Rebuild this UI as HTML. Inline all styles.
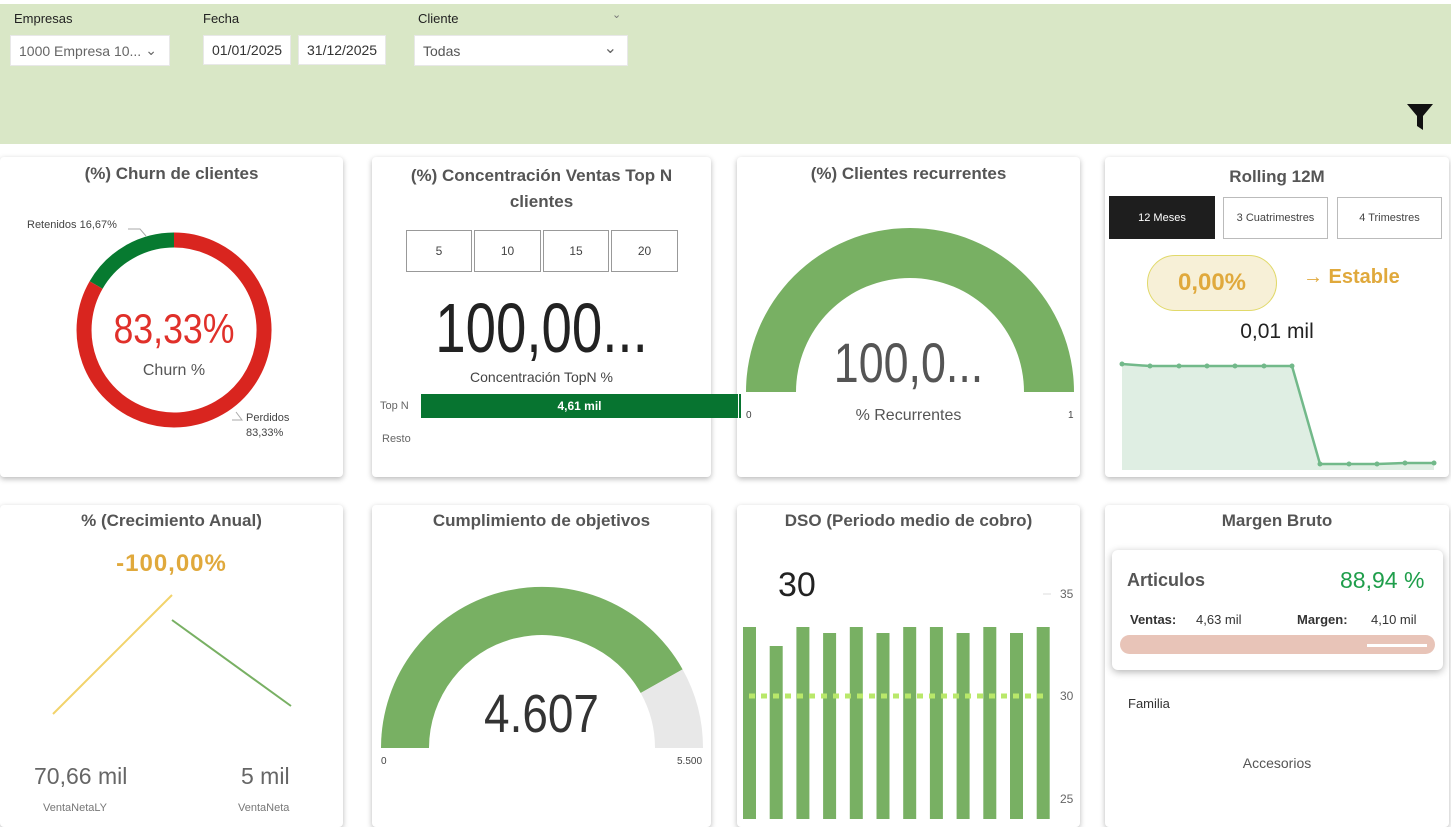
<!DOCTYPE html>
<html><head><meta charset="utf-8"><style>
*{margin:0;padding:0;box-sizing:border-box}
body{width:1451px;height:827px;background:#fff;position:relative;overflow:hidden;font-family:"Liberation Sans",sans-serif;color:#252423}
.a{position:absolute}
.band{left:0;top:4px;width:1451px;height:140px;background:#d9e7c6}
.lbl{font-size:13px;color:#222}
.box{background:#fff;border:1px solid #e8e8e8;font-size:14px;color:#333;display:flex;align-items:center;padding-left:8px}
.card{background:#fff;border-radius:4px;box-shadow:0 2px 6px rgba(0,0,0,.28)}
.t{font-weight:bold;font-size:17px;color:#555;text-align:center}
.btn{border:1px solid #999;background:#fff;font-size:12px;color:#444;display:flex;align-items:center;justify-content:center}
</style></head><body>
<div class="a band"></div>
<div class="a lbl" style="left:14px;top:11px">Empresas</div>
<div class="a lbl" style="left:203px;top:11px">Fecha</div>
<div class="a lbl" style="left:418px;top:11px">Cliente</div>
<div class="a" style="left:612px;top:8px;font-size:11px;color:#777">&#8964;</div>
<div class="a box" style="left:10px;top:35px;width:160px;height:31px;color:#666">1000 Empresa 10...<span style="margin-left:4px">&#8964;</span></div>
<div class="a box" style="left:203px;top:35px;width:88px;height:30px">01/01/2025</div>
<div class="a box" style="left:298px;top:35px;width:88px;height:30px">31/12/2025</div>
<div class="a box" style="left:414px;top:35px;width:214px;height:31px;color:#555">Todas<span style="position:absolute;right:10px;top:2px;font-size:16px;color:#666">&#8964;</span></div>
<svg class="a" style="left:1405px;top:102px" width="30" height="30"><path d="M2 2H28L18 14V28L12 24V14Z" fill="#111"/></svg>

<div class="a card" style="left:0;top:157px;width:343px;height:320px"></div>
<div class="a card" style="left:372px;top:157px;width:339px;height:320px"></div>
<div class="a card" style="left:737px;top:157px;width:343px;height:320px"></div>
<div class="a card" style="left:1105px;top:157px;width:344px;height:320px"></div>
<div class="a card" style="left:0;top:505px;width:343px;height:322px"></div>
<div class="a card" style="left:372px;top:505px;width:339px;height:322px"></div>
<div class="a card" style="left:737px;top:505px;width:343px;height:322px"></div>
<div class="a card" style="left:1105px;top:505px;width:344px;height:322px"></div>

<div class="a t" style="left:0;top:164px;width:343px">(%) Churn de clientes</div>
<div class="a t" style="left:372px;top:163px;width:339px;line-height:26px">(%) Concentración Ventas Top N<br>clientes</div>
<div class="a t" style="left:737px;top:164px;width:343px">(%) Clientes recurrentes</div>
<div class="a t" style="left:1105px;top:167px;width:344px">Rolling 12M</div>
<div class="a t" style="left:0;top:511px;width:343px">% (Crecimiento Anual)</div>
<div class="a t" style="left:372px;top:511px;width:339px">Cumplimiento de objetivos</div>
<div class="a t" style="left:737px;top:511px;width:343px">DSO (Periodo medio de cobro)</div>
<div class="a t" style="left:1105px;top:511px;width:344px">Margen Bruto</div>

<svg class="a" style="left:0;top:0" width="1451" height="827">
<path d="M96.1 285 A90 90 0 0 1 174 240" fill="none" stroke="#077a30" stroke-width="15"/>
<path d="M174 240 A90 90 0 1 1 96.1 285" fill="none" stroke="#d9251f" stroke-width="15"/>
<polyline points="128,229 140,229 146,236" fill="none" stroke="#aaa"/>
<polyline points="232,420 242,420 236,412" fill="none" stroke="#aaa"/>
<path d="M746 392 A164 164 0 0 1 1074 392 L1024 392 A114 114 0 0 0 796 392Z" fill="#78b063"/>
<path d="M381 748 A161 161 0 0 1 682.6 669.4 L640.7 693 A113 113 0 0 0 429 748Z" fill="#78b063"/>
<path d="M682.6 669.4 A161 161 0 0 1 703 748 L655 748 A113 113 0 0 0 640.7 693Z" fill="#e8e8e8"/>
<rect x="421" y="394" width="317" height="24" fill="#077430"/>
<rect x="739" y="394" width="2" height="24" fill="#077430"/>
<line x1="53" y1="714" x2="172" y2="595" stroke="#f2d36b" stroke-width="2"/>
<line x1="172" y1="620" x2="291" y2="706" stroke="#78b063" stroke-width="2"/>
<path d="M1122 364 L1150 366 L1179 366 L1207 366 L1235 366 L1264 366 L1292 366 L1320 464 L1349 464 L1377 464 L1405 463 L1434 463 L1434 470 L1122 470Z" fill="#dfeee3"/>
<polyline points="1122,364 1150,366 1179,366 1207,366 1235,366 1264,366 1292,366 1320,464 1349,464 1377,464 1405,463 1434,463" fill="none" stroke="#72b98a" stroke-width="2.5"/>
<g fill="#72b98a"><circle cx="1122" cy="364" r="2.5"/><circle cx="1150" cy="366" r="2.5"/><circle cx="1179" cy="366" r="2.5"/><circle cx="1207" cy="366" r="2.5"/><circle cx="1235" cy="366" r="2.5"/><circle cx="1264" cy="366" r="2.5"/><circle cx="1292" cy="366" r="2.5"/><circle cx="1320" cy="464" r="2.5"/><circle cx="1349" cy="464" r="2.5"/><circle cx="1377" cy="464" r="2.5"/><circle cx="1405" cy="463" r="2.5"/><circle cx="1434" cy="463" r="2.5"/></g>
<g fill="#78b063">
<rect x="743" y="627" width="13" height="192"/><rect x="769.7" y="646" width="13" height="173"/><rect x="796.4" y="627" width="13" height="192"/><rect x="823.1" y="633" width="13" height="186"/><rect x="849.8" y="627" width="13" height="192"/><rect x="876.5" y="633" width="13" height="186"/><rect x="903.2" y="627" width="13" height="192"/><rect x="929.9" y="627" width="13" height="192"/><rect x="956.6" y="633" width="13" height="186"/><rect x="983.3" y="627" width="13" height="192"/><rect x="1010" y="633" width="13" height="186"/><rect x="1036.7" y="627" width="13" height="192"/></g>
<line x1="749" y1="696" x2="1043" y2="696" stroke="#b9e86a" stroke-width="5" stroke-dasharray="6,6"/>
<line x1="1043" y1="594" x2="1051" y2="594" stroke="#ddd"/>
</svg>
<div class="a" style="left:27px;top:219px;font-size:11px;color:#444">Retenidos 16,67%</div>
<div class="a" style="left:246px;top:411px;font-size:11px;color:#444;line-height:15px">Perdidos<br>83,33%</div>
<div class="a" style="left:74px;top:305px;width:200px;text-align:center;font-size:42px;color:#e0302a;transform:scaleX(.85)">83,33%</div>
<div class="a" style="left:74px;top:362px;width:200px;text-align:center;font-size:16px;color:#555">Churn %</div>

<div class="a btn" style="left:406px;top:230px;width:66px;height:42px">5</div>
<div class="a btn" style="left:474px;top:230px;width:67px;height:42px">10</div>
<div class="a btn" style="left:543px;top:230px;width:66px;height:42px">15</div>
<div class="a btn" style="left:611px;top:230px;width:67px;height:42px">20</div>
<div class="a" style="left:372px;top:288px;width:339px;text-align:center;font-size:70px;color:#222;transform:scaleX(.78)">100,00...</div>
<div class="a" style="left:372px;top:369px;width:339px;text-align:center;font-size:14px;color:#444">Concentración TopN %</div>
<div class="a" style="left:380px;top:400px;font-size:11px;color:#666">Top N</div>
<div class="a" style="left:382px;top:433px;font-size:11px;color:#666">Resto</div>
<div class="a" style="left:421px;top:399px;width:317px;text-align:center;font-size:12px;font-weight:bold;color:#fff">4,61 mil</div>

<div class="a" style="left:737px;top:330px;width:343px;text-align:center;font-size:56px;color:#555;transform:scaleX(.8)">100,0...</div>
<div class="a" style="left:737px;top:407px;width:343px;text-align:center;font-size:16px;color:#555">% Recurrentes</div>
<div class="a" style="left:746px;top:410px;font-size:10px;color:#444">0</div>
<div class="a" style="left:1068px;top:410px;font-size:10px;color:#444">1</div>

<div class="a btn" style="left:1109px;top:196px;width:106px;height:43px;background:#1e1e1e;color:#fff;border-color:#1e1e1e;font-size:11px">12 Meses</div>
<div class="a btn" style="left:1223px;top:197px;width:105px;height:42px;font-size:11px;border-color:#bbb">3 Cuatrimestres</div>
<div class="a btn" style="left:1337px;top:197px;width:105px;height:42px;font-size:11px;border-color:#bbb">4 Trimestres</div>
<div class="a" style="left:1147px;top:255px;width:130px;height:56px;border-radius:28px;background:#f7f0d7;border:1px solid #e1d96a;color:#e0a93c;font-size:24px;font-weight:bold;display:flex;align-items:center;justify-content:center">0,00%</div>
<div class="a" style="left:1303px;top:266px;font-size:20px;font-weight:bold;color:#e0a93c">&#8594; Estable</div>
<div class="a" style="left:1105px;top:320px;width:344px;text-align:center;font-size:21px;color:#222">0,01 mil</div>

<div class="a" style="left:0;top:550px;width:343px;text-align:center;font-size:24px;font-weight:bold;color:#e0a93c;letter-spacing:1px">-100,00%</div>
<div class="a" style="left:34px;top:763px;font-size:23px;color:#666">70,66 mil</div>
<div class="a" style="left:241px;top:763px;font-size:23px;color:#666">5 mil</div>
<div class="a" style="left:43px;top:802px;font-size:11px;color:#777">VentaNetaLY</div>
<div class="a" style="left:238px;top:802px;font-size:11px;color:#777">VentaNeta</div>

<div class="a" style="left:372px;top:683px;width:339px;text-align:center;font-size:54px;color:#333;transform:scaleX(.85)">4.607</div>
<div class="a" style="left:381px;top:756px;font-size:10px;color:#444">0</div>
<div class="a" style="left:677px;top:756px;font-size:10px;color:#444">5.500</div>

<div class="a" style="left:778px;top:566px;font-size:34px;color:#222">30</div>
<div class="a" style="left:1060px;top:587px;font-size:12px;color:#666">35</div>
<div class="a" style="left:1060px;top:689px;font-size:12px;color:#666">30</div>
<div class="a" style="left:1060px;top:792px;font-size:12px;color:#666">25</div>

<div class="a" style="left:1112px;top:550px;width:331px;height:120px;background:#fff;border-radius:6px;box-shadow:0 2px 8px rgba(0,0,0,.3)"></div>
<div class="a" style="left:1127px;top:570px;font-size:18px;font-weight:bold;color:#555">Articulos</div>
<div class="a" style="left:1340px;top:567px;font-size:23px;color:#1f9e4b">88,94 %</div>
<div class="a" style="left:1130px;top:612px;font-size:13px;font-weight:bold;color:#333">Ventas:</div>
<div class="a" style="left:1196px;top:612px;font-size:13px;color:#333">4,63 mil</div>
<div class="a" style="left:1297px;top:612px;font-size:13px;font-weight:bold;color:#333">Margen:</div>
<div class="a" style="left:1371px;top:612px;font-size:13px;color:#333">4,10 mil</div>
<div class="a" style="left:1120px;top:635px;width:315px;height:19px;border-radius:10px;background:#e8c4b8"></div>
<div class="a" style="left:1367px;top:644px;width:60px;height:3px;background:#fff"></div>
<div class="a" style="left:1128px;top:696px;font-size:13px;color:#333">Familia</div>
<div class="a" style="left:1105px;top:755px;width:344px;text-align:center;font-size:14px;color:#555">Accesorios</div>
</body></html>
